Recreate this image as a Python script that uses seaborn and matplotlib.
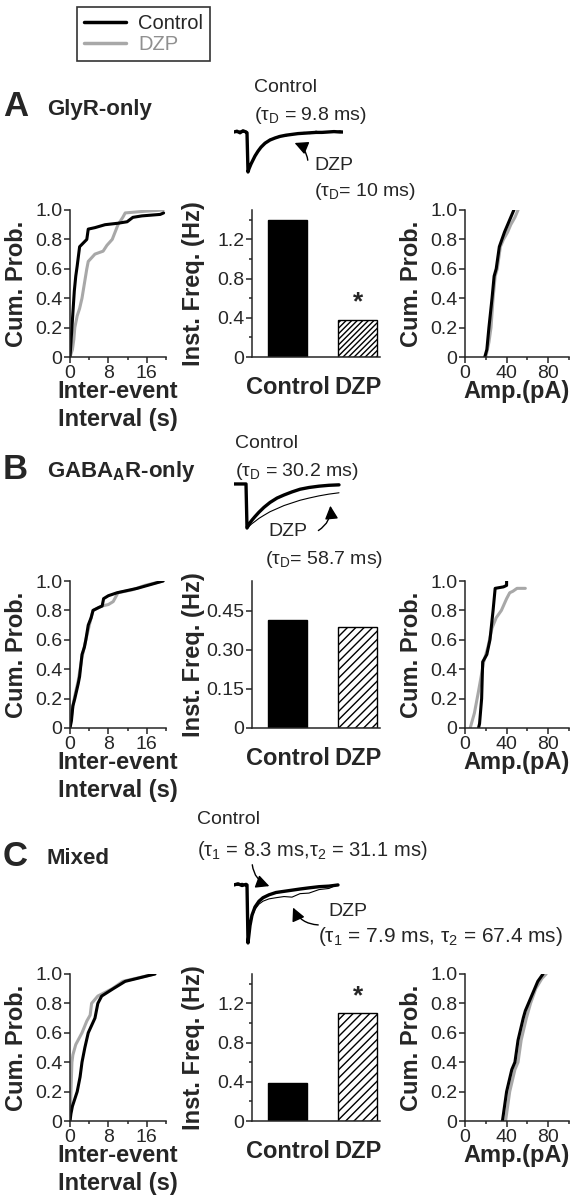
import numpy as np
import pandas as pd
import seaborn as sns
import matplotlib.pyplot as plt
from matplotlib.lines import Line2D
from matplotlib.ticker import MultipleLocator, FuncFormatter

sns.set_style('ticks')
plt.rcParams['font.family'] = ['Liberation Sans', 'DejaVu Sans']
plt.rcParams['mathtext.default'] = 'regular'
plt.rcParams['hatch.linewidth'] = 1.0

conds = ['Control', 'DZP']
ctl_col, dzp_col = 'black', '#a8a8a8'

# inter-event interval CDFs (s, cum. prob.)
ieiA_ctl_x = [0, 0.2, 0.4, 0.6, 0.9, 1.2, 1.5, 2.0, 2.6, 3.5, 3.8, 5.2, 7.3, 10, 11.9, 13.1, 15, 18.8, 19.5]
ieiA_ctl_y = [0, 0.1, 0.2, 0.3, 0.45, 0.55, 0.62, 0.75, 0.77, 0.8, 0.87, 0.88, 0.9, 0.91, 0.92, 0.95, 0.96, 0.97, 0.98]
ieiA_dzp_x = [0, 0.5, 0.8, 1.0, 1.5, 2.0, 2.5, 3.0, 3.5, 3.8, 5.2, 6.9, 7.7, 8.8, 9.4, 10, 11, 11.5, 15, 19.4]
ieiA_dzp_y = [0, 0.05, 0.12, 0.2, 0.28, 0.33, 0.4, 0.5, 0.6, 0.65, 0.7, 0.72, 0.76, 0.8, 0.85, 0.9, 0.95, 0.98, 0.99, 1.0]
ieiB_ctl_x = [0, 0.3, 0.6, 1.0, 1.7, 2.0, 2.5, 3.0, 3.3, 3.8, 4.4, 4.8, 6.0, 6.7, 7.0, 8.0, 9.8, 14, 19.4]
ieiB_ctl_y = [0, 0.05, 0.15, 0.2, 0.3, 0.35, 0.5, 0.55, 0.6, 0.7, 0.75, 0.8, 0.82, 0.83, 0.88, 0.9, 0.92, 0.95, 1.0]
ieiB_dzp_x = [0, 0.3, 0.6, 1.0, 1.7, 2.5, 3.3, 4.4, 4.8, 6.7, 8.0, 9.0, 10, 13, 15.6, 19.4]
ieiB_dzp_y = [0, 0.08, 0.15, 0.22, 0.32, 0.48, 0.6, 0.75, 0.8, 0.83, 0.84, 0.86, 0.92, 0.94, 0.97, 1.0]
ieiC_ctl_x = [0, 0.2, 0.5, 1.0, 1.5, 2.1, 2.5, 3.1, 3.8, 5.2, 5.8, 6.6, 9.0, 11.5, 14, 17.7]
ieiC_ctl_y = [0, 0.05, 0.1, 0.15, 0.2, 0.3, 0.4, 0.5, 0.6, 0.7, 0.8, 0.85, 0.9, 0.95, 0.97, 1.0]
ieiC_dzp_x = [0, 0.2, 0.4, 0.6, 1.2, 2.5, 3.5, 4.2, 4.5, 5.8, 8.8, 11, 17.7]
ieiC_dzp_y = [0, 0.2, 0.4, 0.45, 0.52, 0.6, 0.68, 0.72, 0.8, 0.85, 0.9, 0.95, 1.0]

# amplitude CDFs (pA, cum. prob.)
ampA_ctl_x = [19, 21, 23, 26, 28, 30, 33, 35.5, 38, 41, 44, 47]
ampA_ctl_y = [0, 0.05, 0.2, 0.4, 0.55, 0.6, 0.75, 0.8, 0.85, 0.9, 0.95, 1.0]
ampA_dzp_x = [20, 23, 25, 27, 29, 31, 34, 37, 41, 44, 48, 51]
ampA_dzp_y = [0, 0.1, 0.2, 0.4, 0.55, 0.6, 0.75, 0.8, 0.85, 0.9, 0.95, 1.0]
ampB_ctl_x = [13, 14, 16, 17, 21, 24, 27, 29, 37, 40, 40]
ampB_ctl_y = [0, 0.03, 0.2, 0.45, 0.5, 0.6, 0.8, 0.95, 0.96, 0.97, 1.0]
ampB_dzp_x = [5, 9, 13, 18, 22, 26, 30, 35, 40, 43, 46, 50, 58]
ampB_dzp_y = [0, 0.1, 0.25, 0.45, 0.55, 0.68, 0.75, 0.8, 0.88, 0.92, 0.93, 0.95, 0.95]
ampC_ctl_x = [36, 38, 40, 45, 48, 51, 56, 58, 64, 70, 75]
ampC_ctl_y = [0, 0.1, 0.2, 0.35, 0.4, 0.55, 0.7, 0.75, 0.85, 0.95, 1.0]
ampC_dzp_x = [39, 43, 48, 51, 54, 59, 63, 68, 74, 78]
ampC_dzp_y = [0, 0.2, 0.35, 0.4, 0.55, 0.7, 0.8, 0.9, 0.97, 1.0]

# mean instantaneous frequency (Hz)
freqA = [1.40, 0.38]
freqB = [0.415, 0.388]
freqC = [0.39, 1.10]

# averaged mIPSC traces (normalised amplitude)
trA_t = [0, 3, 6, 9, 12, 13, 14, 15, 17, 19, 21, 24, 27, 31, 36, 41, 46, 52, 58, 64, 70, 76, 82, 88, 94, 100, 106, 109]
trA_ctl = [0, 0.02, -0.02, 0.03, 0, -0.02, -1.0, -0.92, -0.8, -0.7, -0.6, -0.48, -0.38, -0.28, -0.2, -0.15, -0.11, -0.08, -0.06, -0.04, -0.03, -0.02, -0.01, -0.01, 0, 0.01, 0, 0]
trA_dzp = [0.02, -0.02, 0.03, -0.01, 0.02, 0, -0.95, -0.9, -0.78, -0.7, -0.58, -0.5, -0.36, -0.3, -0.18, -0.16, -0.09, -0.1, -0.04, -0.06, -0.01, -0.04, 0.02, -0.02, 0.01, -0.01, 0.03, 0]
trB_t = [0, 4, 8, 12, 13, 14, 16, 18, 21, 25, 30, 36, 43, 50, 58, 66, 75, 85, 95, 105]
trB_ctl = [0, 0, 0, 0, -1.0, -0.96, -0.88, -0.82, -0.74, -0.64, -0.53, -0.42, -0.32, -0.25, -0.18, -0.12, -0.08, -0.05, -0.03, -0.02]
trB_dzp = [0.01, -0.01, 0.01, 0, -1.0, -0.98, -0.94, -0.9, -0.85, -0.78, -0.71, -0.63, -0.56, -0.49, -0.43, -0.37, -0.32, -0.27, -0.23, -0.2]
trC_t = [0, 4, 8, 12, 13, 14, 16, 18, 21, 25, 29, 35, 42, 50, 58, 66, 75, 85, 95, 104]
trC_ctl = [0, 0.02, -0.01, 0.01, 0, -1.0, -0.7, -0.52, -0.38, -0.28, -0.22, -0.17, -0.13, -0.11, -0.09, -0.07, -0.05, -0.03, -0.02, 0.0]
trC_dzp = [0.02, -0.01, 0.03, 0, 0.01, -0.95, -0.72, -0.55, -0.42, -0.33, -0.28, -0.24, -0.22, -0.2, -0.21, -0.15, -0.14, -0.08, -0.06, 0.01]

W, H = 572, 1200
fig = plt.figure(figsize=(W / 100, H / 100), dpi=100)


def box(x0, y0, w, h):
    # pixel box (top-left origin) -> figure fraction
    return [x0 / W, 1 - (y0 + h) / H, w / W, h / H]


def fxy(x, y):
    return (x / W, 1 - y / H)


TICK = 14
LAB = 17


def style(ax):
    sns.despine(ax=ax)
    for s in ['left', 'bottom']:
        ax.spines[s].set_linewidth(1.1)
    ax.tick_params(which='major', length=4, width=1.1, labelsize=TICK, pad=1.5)
    ax.tick_params(which='minor', length=2.5, width=1.1)


def zero_fmt(dec):
    return FuncFormatter(lambda v, p: '0' if abs(v) < 1e-9 else f'{v:.{dec}f}')


def cdf_axes(ax, ctl, dzp, xmax, major, minor, xlabel, labx):
    sns.lineplot(x=dzp[0], y=dzp[1], color=dzp_col, lw=2.2, sort=False, estimator=None, ax=ax)
    sns.lineplot(x=ctl[0], y=ctl[1], color=ctl_col, lw=2.2, sort=False, estimator=None, ax=ax)
    ax.set_xlim(0, xmax)
    ax.set_ylim(0, 1.0)
    ax.xaxis.set_major_locator(MultipleLocator(major))
    ax.xaxis.set_minor_locator(MultipleLocator(minor))
    ax.yaxis.set_major_locator(MultipleLocator(0.2))
    ax.yaxis.set_major_formatter(zero_fmt(1))
    style(ax)
    ax.set_ylabel('Cum. Prob.', fontsize=LAB, fontweight='bold')
    ax.yaxis.set_label_coords(labx, 0.5)
    ax.set_xlabel(xlabel, fontsize=LAB, fontweight='bold', linespacing=1.3, va='top')
    ax.xaxis.set_label_coords(0.5, -0.155)


def bar_axes(ax, freq, ymax, major, minor, dec, hatch, star):
    df = pd.DataFrame({'cond': conds, 'freq': freq})
    sns.barplot(data=df, x='cond', y='freq', hue='cond', palette={'Control': 'black', 'DZP': 'white'},
                edgecolor='black', linewidth=1.0, width=0.56, legend=False, ax=ax)
    ax.patches[1].set_hatch(hatch)
    ax.set_xlim(-0.51, 1.32)
    ax.set_ylim(0, ymax)
    ax.yaxis.set_major_locator(MultipleLocator(major))
    if minor:
        ax.yaxis.set_minor_locator(MultipleLocator(minor))
    ax.yaxis.set_major_formatter(zero_fmt(dec))
    style(ax)
    ax.tick_params(axis='x', length=0, pad=14)
    for t in ax.get_xticklabels():
        t.set_fontsize(LAB)
        t.set_fontweight('bold')
    ax.set_xlabel('')
    ax.set_ylabel('Inst. Freq. (Hz)', fontsize=LAB, fontweight='bold')
    ax.yaxis.set_label_coords(-0.367, 0.5)
    if star:
        ax.text(1, freq[1] + ymax * 0.035, '*', ha='center', va='bottom', fontsize=19, fontweight='bold')


def trace_axes(ax, t, ctl, dzp, ylim):
    sns.lineplot(x=t, y=ctl, color='black', lw=2.4, sort=False, estimator=None, ax=ax)
    sns.lineplot(x=t, y=dzp, color='black', lw=0.8, sort=False, estimator=None, ax=ax)
    ax.set_xlim(0, 109)
    ax.set_ylim(*ylim)
    ax.axis('off')


rows = [
    dict(top=210, ctl=(ieiA_ctl_x, ieiA_ctl_y), dzp=(ieiA_dzp_x, ieiA_dzp_y),
         actl=(ampA_ctl_x, ampA_ctl_y), adzp=(ampA_dzp_x, ampA_dzp_y),
         freq=freqA, ymax=1.5, major=0.4, minor=0.2, dec=1, hatch='//////', star=True),
    dict(top=581, ctl=(ieiB_ctl_x, ieiB_ctl_y), dzp=(ieiB_dzp_x, ieiB_dzp_y),
         actl=(ampB_ctl_x, ampB_ctl_y), adzp=(ampB_dzp_x, ampB_dzp_y),
         freq=freqB, ymax=0.565, major=0.15, minor=None, dec=2, hatch='////', star=False),
    dict(top=974, ctl=(ieiC_ctl_x, ieiC_ctl_y), dzp=(ieiC_dzp_x, ieiC_dzp_y),
         actl=(ampC_ctl_x, ampC_ctl_y), adzp=(ampC_dzp_x, ampC_dzp_y),
         freq=freqC, ymax=1.5, major=0.4, minor=0.2, dec=1, hatch='////', star=True),
]

for r in rows:
    ax1 = fig.add_axes(box(70, r['top'], 96, 147))
    cdf_axes(ax1, r['ctl'], r['dzp'], 20, 8, 4, 'Inter-event\nInterval (s)', -0.44)
    ax2 = fig.add_axes(box(252, r['top'], 128, 147))
    bar_axes(ax2, r['freq'], r['ymax'], r['major'], r['minor'], r['dec'], r['hatch'], r['star'])
    ax3 = fig.add_axes(box(465, r['top'], 104, 147))
    cdf_axes(ax3, r['actl'], r['adzp'], 100, 40, 20, 'Amp.(pA)', -0.40)

# traces
trace_axes(fig.add_axes(box(234, 128, 109, 48)), trA_t, trA_ctl, trA_dzp, (-1.1, 0.1))
trace_axes(fig.add_axes(box(234, 480, 109, 52)), trB_t, trB_ctl, trB_dzp, (-1.09, 0.09))
trace_axes(fig.add_axes(box(234, 878, 109, 69)), trC_t, trC_ctl, trC_dzp, (-1.07, 0.12))

# panel letters and titles
for letter, title, y in [('A', 'GlyR-only', 107), ('B', 'GABA$_A$R-only', 470), ('C', 'Mixed', 857)]:
    fig.text(*fxy(3, y), letter, fontsize=25, fontweight='bold', va='center', ha='left')
    fig.text(*fxy(47, y + 2), title, fontsize=16, fontweight='bold', va='center', ha='left')

ANN = 14
notes = [
    ('Control', 254, 87, ANN), ('(τ$_D$ = 9.8 ms)', 254, 115, ANN), ('DZP', 314, 165, ANN),
    ('(τ$_D$= 10 ms)', 314, 192, ANN),
    ('Control', 235, 443, ANN), ('(τ$_D$ = 30.2 ms)', 235, 472, ANN), ('DZP', 268, 532, ANN),
    ('(τ$_D$= 58.7 ms)', 265, 560, ANN),
    ('Control', 197, 820, ANN), ('(τ$_1$ = 8.3 ms,τ$_2$ = 31.1 ms)', 197, 850, 14.5),
    ('DZP', 328, 912, ANN), ('(τ$_1$ = 7.9 ms, τ$_2$ = 67.4 ms)', 318, 937, 15),
]
for txt, x, y, fs in notes:
    fig.text(*fxy(x, y), txt, fontsize=fs, va='center', ha='left')

arrows = [
    ((292, 142), (308, 163), 0.35),
    ((330, 503), (316, 532), 0.35),
    ((272, 887), (252, 862), 0.35),
    ((292, 905), (321, 925), -0.35),
]
for tip, tail, rad in arrows:
    fig.add_artist(plt.Annotation('', xy=fxy(*tip), xytext=fxy(*tail), xycoords='figure fraction',
                                  textcoords='figure fraction',
                                  arrowprops=dict(arrowstyle='-|>,head_length=0.8,head_width=0.4', color='black',
                                                  lw=1.0, connectionstyle=f'arc3,rad={rad}')))

# legend
handles = [Line2D([], [], color=ctl_col, lw=2.5), Line2D([], [], color=dzp_col, lw=2.5)]
leg = fig.legend(handles, conds, loc='upper left', bbox_to_anchor=fxy(77, 7), fontsize=14.5, frameon=True,
                 fancybox=False, edgecolor='black', handlelength=2.1, borderpad=0.35, labelspacing=0.1,
                 handletextpad=0.6, borderaxespad=0)
leg.get_frame().set_linewidth(1.2)
leg.get_texts()[1].set_color('#909090')

fig.savefig('out.png', dpi=100)
